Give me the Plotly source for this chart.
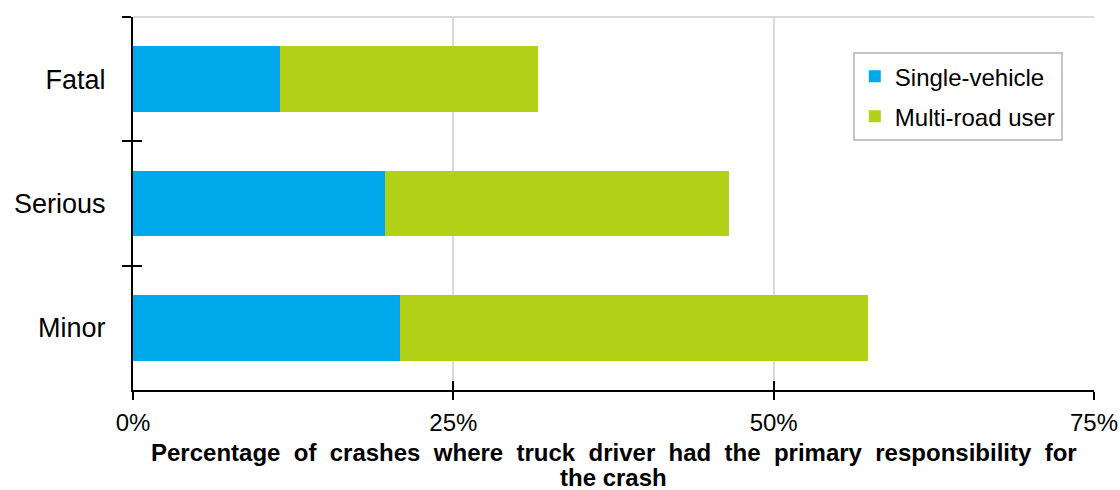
import plotly.graph_objects as go

# Crash severity categories (top to bottom)
severity = ["Fatal", "Serious", "Minor"]

# Share of crashes where the truck driver had primary responsibility (%)
single_vehicle = [11.5, 19.7, 20.8]
multi_road_user = [20.1, 26.8, 36.6]

x_ticks = [0, 25, 50, 75]
x_tick_labels = ["0%", "25%", "50%", "75%"]

axis_title_lines = [
    "Percentage  of  crashes  where  truck  driver  had  the  primary  responsibility  for",
    "the crash",
]

BLUE = "#00A8EC"
GREEN = "#B3D116"
FONT = "Liberation Sans, Arial, sans-serif"

fig = go.Figure()
fig.add_trace(go.Bar(
    y=severity, x=single_vehicle, orientation="h", name="Single-vehicle",
    marker=dict(color=BLUE, line=dict(width=0)), legendgroup="a",
))
fig.add_trace(go.Bar(
    y=severity, x=multi_road_user, orientation="h", name="Multi-road user",
    marker=dict(color=GREEN, line=dict(width=0)), legendgroup="b",
))

n = len(severity)
fig.update_layout(
    barmode="stack",
    bargap=0.47,
    width=1120, height=490,
    margin=dict(l=133, r=26, t=17, b=100, autoexpand=False),
    paper_bgcolor="white", plot_bgcolor="white",
    font=dict(family=FONT, size=24, color="black"),
    showlegend=True,
    legend=dict(
        x=0.749, y=0.906, xanchor="left", yanchor="top",
        bgcolor="white", bordercolor="#C4C4C4", borderwidth=2,
        font=dict(size=24, color="black"),
        traceorder="grouped", tracegroupgap=6,
        itemwidth=30,
    ),
    xaxis=dict(
        range=[0, 75], tickvals=x_ticks, ticktext=x_tick_labels,
        showgrid=True, gridcolor="#D9D9D9", gridwidth=2,
        zeroline=False, automargin=False,
        showline=True, linecolor="black", linewidth=2,
        ticks="outside", ticklen=8, tickwidth=2, tickcolor="black",
        tickfont=dict(size=24), ticklabelstandoff=2,
    ),
    yaxis=dict(
        type="category", range=[n - 0.5, -0.5],
        showgrid=False, zeroline=False, automargin=False,
        showline=True, linecolor="black", linewidth=2,
        ticks="outside", tickson="boundaries", ticklen=9, tickwidth=2, tickcolor="black",
        tickfont=dict(size=27), ticklabelstandoff=20,
    ),
    # overlay axes supply the inner half of the crossing tick marks
    xaxis2=dict(
        overlaying="x", anchor="y", side="bottom", range=[0, 75],
        tickvals=x_ticks, showticklabels=False, showgrid=False, zeroline=False,
        ticks="inside", ticklen=9, tickwidth=2, tickcolor="black", showline=False,
    ),
    yaxis2=dict(
        overlaying="y", anchor="x", side="left", range=[n - 0.5, -0.5],
        tickvals=[i - 0.5 for i in range(n + 1)], showticklabels=False,
        showgrid=False, zeroline=False,
        ticks="inside", ticklen=9, tickwidth=2, tickcolor="black", showline=False,
    ),
    shapes=[dict(
        type="line", xref="paper", yref="paper", x0=0, x1=1, y0=1, y1=1,
        line=dict(color="#D9D9D9", width=2), layer="below",
    )],
)

# two-line bold x-axis title, centred under the plot area
for line, shift in zip(axis_title_lines, [-47, -72]):
    fig.add_annotation(
        text=f"<b>{line}</b>", xref="paper", yref="paper", x=0.5, y=0,
        xanchor="center", yanchor="top", yshift=shift, showarrow=False,
        font=dict(size=24, color="black"),
    )

# dummy traces so the overlay axes are drawn
fig.add_trace(go.Scatter(x=[None], y=[None], xaxis="x2", yaxis="y", showlegend=False, hoverinfo="skip"))
fig.add_trace(go.Scatter(x=[None], y=[None], xaxis="x", yaxis="y2", showlegend=False, hoverinfo="skip"))

fig.write_html("out.html")
